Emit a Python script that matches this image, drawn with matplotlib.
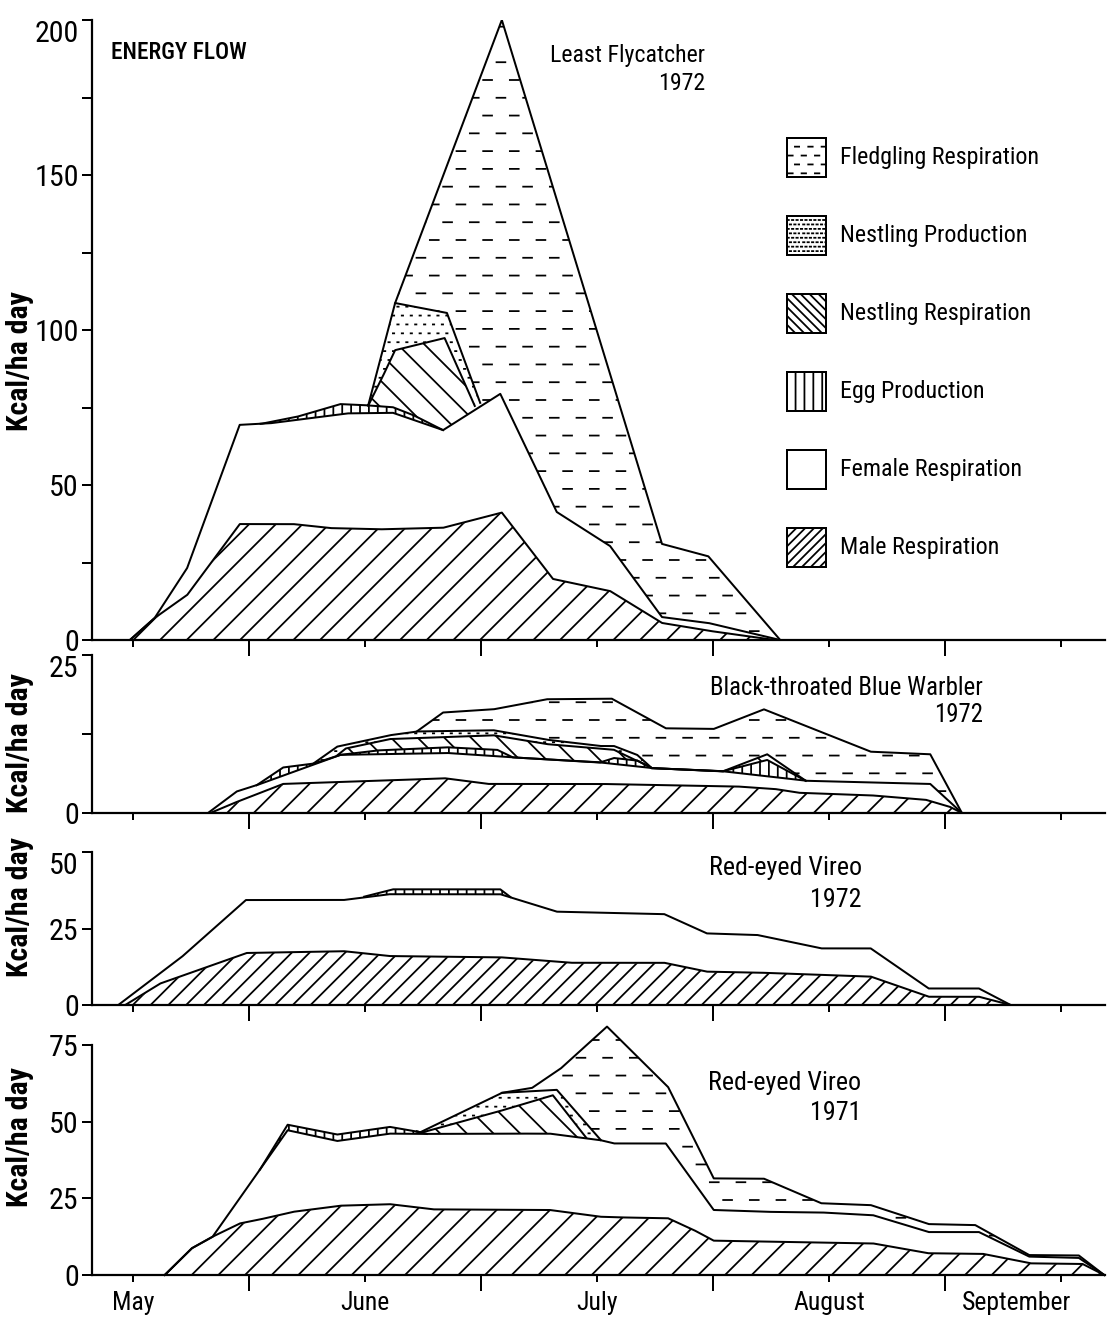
import numpy as np
import matplotlib
matplotlib.use("Agg")
import matplotlib.pyplot as plt
import matplotlib.hatch as mhatch
from matplotlib import font_manager as fm
from matplotlib.path import Path
from matplotlib.patches import Rectangle

# ------------------------------------------------------------------ data
# x = days of the season (tick every 15 days; 15 = mid-May, 30 = 1 June ...)
month_names = ["May", "June", "July", "August", "September"]
month_pos = [15, 45, 75, 105, 135]
boundary_ticks = [30, 60, 90, 120]

layer_names = ["Fledgling Respiration", "Nestling Production", "Nestling Respiration",
               "Egg Production", "Female Respiration", "Male Respiration"]

# Least Flycatcher 1972 (cumulative tops of each layer, kcal/ha day)
lf_male_x = [14.6, 17.8, 22.0, 28.8, 35.7, 40.5, 46.9, 55.1, 58.2, 62.7, 69.3, 76.7, 83.4, 89.4, 98.0]
lf_male_y = [0, 7.1, 14.5, 37.4, 37.4, 36.1, 35.7, 36.2, 38.2, 41.1, 19.7, 15.8, 5.5, 3.0, 0]
lf_female_x = [14.6, 17.8, 22.0, 28.8, 32.7, 42.7, 48.6, 55.1, 62.5, 69.8, 76.7, 83.4, 89.4, 98.7]
lf_female_y = [0, 7.1, 23.2, 69.4, 69.9, 73.1, 73.3, 67.7, 79.4, 41.3, 30.3, 7.4, 5.5, 0]
lf_egg_x = [31.5, 36.2, 41.8, 44.7, 48.6, 51.2, 55.1]
lf_egg_y = [69.7, 72.0, 76.1, 75.8, 75.1, 72.6, 67.7]
lf_nresp_x = [45.4, 47.2, 48.9, 55.3, 59.2]
lf_nresp_y = [75.5, 84.5, 93.5, 97.4, 75.5]
lf_nprod_x = [45.4, 48.9, 55.6, 59.9]
lf_nprod_y = [75.5, 108.7, 105.5, 76.5]
lf_fledg_x = [48.9, 62.7, 83.4, 89.4, 98.7]
lf_fledg_y = [108.7, 200, 31.0, 27.0, 0]

# Black-throated Blue Warbler 1972
bt_male_x = [25.0, 27.9, 34.4, 49.1, 55.3, 60.9, 75.4, 93.1, 98.0, 101.1, 110.4, 117.5, 120.6, 122.2]
bt_male_y = [0, 1.5, 4.6, 5.2, 5.5, 4.6, 4.6, 4.2, 3.8, 3.2, 2.8, 2.1, 1.0, 0]
bt_female_x = [24.7, 28.4, 31.0, 41.8, 55.6, 64.1, 75.4, 82.1, 91.3, 102.0, 118.1, 122.2]
bt_female_y = [0, 3.4, 4.4, 9.2, 9.5, 8.8, 8.0, 7.1, 6.6, 5.1, 4.6, 0]
bt_egg_x = [31.0, 34.4, 38.3, 41.8, 46.6, 55.6, 62.1, 64.1, 75.4, 77.2, 80.2, 82.1, 91.3, 97.0, 102.0]
bt_egg_y = [4.4, 7.2, 7.8, 9.2, 9.9, 10.4, 10.0, 8.8, 8.0, 8.7, 8.3, 7.1, 6.6, 8.4, 5.1]
bt_nresp_x = [41.4, 42.5, 48.2, 61.6, 68.5, 75.4, 77.2, 82.1, 91.3, 97.0, 102.0]
bt_nresp_y = [9.1, 10.2, 11.7, 12.3, 10.9, 10.2, 10.0, 7.1, 6.6, 9.3, 5.1]
bt_nprod_x = [38.3, 41.4, 48.2, 51.7, 61.6, 68.5, 75.4, 77.2, 80.2, 82.1]
bt_nprod_y = [7.8, 10.5, 12.3, 12.9, 13.1, 11.6, 10.6, 10.6, 9.2, 7.1]
bt_fledg_x = [51.7, 55.1, 61.6, 68.5, 76.9, 83.9, 90.1, 96.6, 110.4, 118.1, 122.2]
bt_fledg_y = [12.9, 15.9, 16.4, 18.0, 18.1, 13.4, 13.3, 16.4, 9.7, 9.3, 0]

# Red-eyed Vireo 1972
rv2_male_x = [14.0, 18.5, 29.7, 42.2, 48.1, 62.5, 71.6, 83.7, 89.2, 95.7, 110.4, 117.9, 124.4, 128.5]
rv2_male_y = [0, 7.0, 17.0, 17.6, 16.0, 15.6, 13.8, 13.8, 10.9, 10.6, 9.3, 2.7, 2.7, 0]
rv2_female_x = [13.1, 21.3, 29.6, 42.2, 48.1, 62.5, 69.8, 83.7, 89.2, 95.7, 104.0, 110.4, 117.9, 124.4, 128.5]
rv2_female_y = [0, 15.7, 34.3, 34.3, 36.2, 36.2, 30.5, 29.7, 23.4, 22.9, 18.5, 18.5, 5.4, 5.4, 0]
rv2_egg_x = [44.9, 48.6, 62.5, 63.8]
rv2_egg_y = [35.4, 37.8, 37.8, 35.3]

# Red-eyed Vireo 1971
rv1_male_x = [19.1, 22.6, 25.3, 28.8, 31.4, 35.7, 41.8, 48.2, 53.8, 62.1, 68.9, 75.4, 77.7, 84.2,
              87.5, 90.1, 110.7, 117.8, 124.9, 131.1, 137.8, 140.6]
rv1_male_y = [0, 8.7, 12.5, 16.8, 18.1, 20.6, 22.6, 23.1, 21.4, 21.3, 21.2, 19.0, 18.8, 18.5,
              14.7, 11.2, 10.3, 7.1, 6.9, 3.8, 3.6, 0]
rv1_female_x = [19.1, 22.6, 25.3, 35.0, 41.4, 48.2, 51.7, 62.1, 68.9, 75.4, 77.2, 83.9, 90.1,
                96.9, 104.0, 110.7, 117.9, 124.4, 130.9, 137.3, 140.6]
rv1_female_y = [0, 8.7, 12.5, 47.2, 43.7, 46.1, 46.0, 46.1, 46.1, 44.0, 42.9, 42.9, 21.2,
                20.6, 20.4, 19.5, 14.0, 14.0, 6.0, 5.6, 0]
rv1_egg_x = [31.4, 35.0, 41.4, 48.2, 51.7, 53.0]
rv1_egg_y = [34.3, 49.0, 45.8, 48.3, 46.8, 46.0]
rv1_nresp_x = [51.7, 62.1, 69.3, 73.6]
rv1_nresp_y = [46.0, 53.2, 58.6, 44.8]
rv1_nprod_x = [51.7, 62.7, 69.8, 75.5]
rv1_nprod_y = [46.0, 59.4, 60.4, 44.0]
rv1_fledg_x = [62.7, 66.6, 70.3, 76.3, 84.2, 90.1, 96.6, 104.0, 110.4, 117.9, 123.9, 130.9, 137.3, 140.6]
rv1_fledg_y = [59.4, 61.0, 67.3, 81.0, 61.3, 31.5, 31.4, 23.4, 22.8, 16.6, 16.3, 6.5, 6.4, 0]


# ------------------------------------------------------------------ custom hatches
class DashHatch(mhatch.HatchPatternBase):
    """short staggered horizontal dashes, triggered by '*'"""
    def __init__(self, hatch, density):
        n = hatch.count('*')
        self.rows = int(1.5 * n * density)
        self.cols = int(n * density) if n else 0
        self.num_vertices = self.rows * self.cols * 2

    def set_vertices_and_codes(self, vertices, codes):
        k = 0
        dash = 0.33 / self.cols
        for i in range(self.rows):
            yy = (i + 0.5) / self.rows
            off = 0.12 if i % 2 == 0 else 0.62
            for j in range(self.cols):
                x0 = (j + off) / self.cols
                vertices[k] = (x0, yy)
                vertices[k + 1] = (x0 + dash, yy)
                codes[k] = Path.MOVETO
                codes[k + 1] = Path.LINETO
                k += 2


class DotHatch(mhatch.HatchPatternBase):
    """fine staggered stipple, triggered by 'o'"""
    def __init__(self, hatch, density):
        n = hatch.count('o')
        self.rows = int(3 * n * density)
        self.cols = self.rows
        self.num_vertices = self.rows * self.cols * 2

    def set_vertices_and_codes(self, vertices, codes):
        k = 0
        dot = 0.008
        for i in range(self.rows):
            yy = (i + 0.5) / self.rows
            off = 0.2 if i % 2 == 0 else 0.7
            for j in range(self.cols):
                x0 = (j + off) / self.cols
                vertices[k] = (x0, yy)
                vertices[k + 1] = (x0 + dot, yy)
                codes[k] = Path.MOVETO
                codes[k + 1] = Path.LINETO
                k += 2


try:
    mhatch._hatch_types[mhatch._hatch_types.index(mhatch.Stars)] = DashHatch
    DASH, DASH_LEG = '*', '**'
except Exception:
    DASH, DASH_LEG = '-', '--'
try:
    mhatch._hatch_types[mhatch._hatch_types.index(mhatch.SmallCircles)] = DotHatch
    DOTS, DOTS_LEG = 'o', 'oo'
except Exception:
    DOTS, DOTS_LEG = '..', '....'

H_MALE, H_FEMALE, H_EGG, H_NRESP, H_NPROD = '//', None, '|||', '\\\\', DOTS


# ------------------------------------------------------------------ font choice (narrow if any)
def pick_font():
    entries = fm.fontManager.ttflist
    names = {e.name for e in entries}
    for n in ['Liberation Sans Narrow', 'Roboto Condensed', 'Open Sans Condensed',
              'Noto Sans Condensed', 'DejaVu Sans Condensed', 'Arial Narrow']:
        if n in names:
            return n, 'normal'
    for fam in ['DejaVu Sans', 'Noto Sans', 'Roboto', 'Open Sans']:
        for e in entries:
            if e.name == fam and str(e.stretch) in ('condensed', 'semi-condensed', 'extra-condensed'):
                return fam, 'condensed'
    for fam in ['Roboto', 'Liberation Sans', 'Lato']:
        if fam in names:
            return fam, 'normal'
    return 'DejaVu Sans', 'normal'


FONT, STRETCH = pick_font()
plt.rcParams['font.family'] = [FONT, 'DejaVu Sans']
plt.rcParams['font.stretch'] = STRETCH
plt.rcParams['hatch.linewidth'] = 0.8
LW = 0.9

W_PX, H_PX, DPI = 1114, 1318, 160
PT = DPI / 72.0
fig = plt.figure(figsize=(W_PX / DPI, H_PX / DPI), dpi=DPI)
fig.patch.set_facecolor('white')
renderer = fig.canvas.get_renderer()


def fit_size(s, width_px, max_em_px, weight='normal'):
    t = fig.text(0, 0, s, fontsize=20, fontweight=weight)
    w = t.get_window_extent(renderer).width
    t.remove()
    return min(20 * width_px / w, max_em_px / PT)


fs_tick = fit_size('200', 45, 30)
fs_ylab = fit_size('Kcal/ha day', 140, 32, 'bold')
fs_energy = fit_size('ENERGY FLOW', 136, 28, 'medium')
fs_lf = fit_size('Least Flycatcher', 155, 29)
fs_bt = fit_size('Black-throated Blue Warbler', 274, 29)
fs_rv = fit_size('Red-eyed Vireo', 153, 29)
fs_leg = fit_size('Fledgling Respiration', 200, 29)
fs_month = fit_size('September', 110, 29)

X0, X1 = 92, 1105


def add_ax(top_px, bot_px):
    return fig.add_axes([X0 / W_PX, 1 - bot_px / H_PX, (X1 - X0) / W_PX, (bot_px - top_px) / H_PX])


def stack(ax, layers, clip=True):
    allx = np.concatenate([np.asarray(l[0], float) for l in layers])
    xg = np.union1d(np.linspace(allx.min(), allx.max(), 4000), allx)
    base = np.zeros_like(xg)
    for x, y, hatch in layers:
        x = np.asarray(x, float)
        y = np.asarray(y, float)
        inside = (xg >= x[0]) & (xg <= x[-1])
        top = np.where(inside, np.maximum(np.interp(xg, x, y), base), base)
        ax.fill_between(xg, base, top, where=inside, facecolor='white', edgecolor='black',
                        linewidth=0, hatch=hatch, zorder=2, clip_on=clip)
        ax.plot(xg[inside], top[inside], color='black', lw=LW, zorder=3, clip_on=clip)
        base = top


def style(ax, ymax, yticks, yminor, label_y, top_label_down=True, bottom=False):
    ax.set_xlim(9.7, 140.7)
    ax.set_ylim(0, ymax)
    for s in ('top', 'right'):
        ax.spines[s].set_visible(False)
    for s in ('left', 'bottom'):
        ax.spines[s].set_linewidth(1.0)
    ax.set_facecolor('none')
    ax.set_yticks(yticks)
    ax.set_yticklabels([str(v) for v in yticks])
    ax.set_yticks(yminor, minor=True)
    ax.tick_params(axis='y', which='both', direction='out', length=4.5, width=0.9,
                   labelsize=fs_tick, pad=1.5)
    if top_label_down:
        ax.get_yticklabels()[-1].set_verticalalignment('top')
    ax.set_xticks(boundary_ticks)
    ax.set_xticks(month_pos, minor=True)
    ax.tick_params(axis='x', which='major', direction='out', length=7, width=0.9, labelbottom=False)
    ax.tick_params(axis='x', which='minor', direction='out', length=3, width=0.9, labelbottom=False)
    ax.set_ylabel('Kcal/ha day', fontsize=fs_ylab, fontweight='bold')
    ax.yaxis.label.set(rotation_mode='default', va='center', ha='center')
    ax.yaxis.set_label_coords((20 - X0) / (X1 - X0), label_y)
    if bottom:
        for name, pos in zip(month_names, month_pos):
            if name == 'September':
                ax.text(pos + 1.3, -0.152, name, transform=ax.get_xaxis_transform(),
                        ha='right', va='baseline', fontsize=fs_month)
            else:
                ax.text(pos, -0.152, name, transform=ax.get_xaxis_transform(),
                        ha='center', va='baseline', fontsize=fs_month)


def species(ax, xr, name, y1, year, y2, fs):
    ax.text(xr, y1, name, transform=ax.transAxes, ha='right', va='baseline', fontsize=fs)
    ax.text(xr, y2, year, transform=ax.transAxes, ha='right', va='baseline', fontsize=fs)


# ---------------- panel 1: Least Flycatcher 1972
ax1 = add_ax(20, 640)
stack(ax1, [(lf_male_x, lf_male_y, H_MALE), (lf_female_x, lf_female_y, H_FEMALE),
            (lf_egg_x, lf_egg_y, H_EGG), (lf_nresp_x, lf_nresp_y, H_NRESP),
            (lf_nprod_x, lf_nprod_y, H_NPROD), (lf_fledg_x, lf_fledg_y, DASH)])
style(ax1, 200, [0, 50, 100, 150, 200], [25, 75, 125, 175], (640 - 361) / 620)
ax1.text(0.0185, 0.937, 'ENERGY FLOW', transform=ax1.transAxes, ha='left', va='baseline',
         fontsize=fs_energy, fontweight='medium')
species(ax1, 0.6051, 'Least Flycatcher', 0.9327, '1972', 0.8877, fs_lf)

# key: hatched swatches with labels (positions in axes fraction of panel 1)
legend_hatches = [DASH_LEG, DOTS_LEG, '\\\\\\\\\\\\', '|||', None, '//////']
key_box_tops = [138, 216, 294, 372, 450, 528]
KEY_X, KEY_W, KEY_H, KEY_TX = 787, 39, 39, 840
for name, h, top in zip(layer_names, legend_hatches, key_box_tops):
    ax1.add_patch(Rectangle(((KEY_X - X0) / (X1 - X0), (640 - top - KEY_H) / 620),
                            KEY_W / (X1 - X0), KEY_H / 620, transform=ax1.transAxes,
                            facecolor='white', edgecolor='black', hatch=h, linewidth=LW,
                            clip_on=False, zorder=4))
    ax1.text((KEY_TX - X0) / (X1 - X0), (640 - top - KEY_H / 2) / 620, name,
             transform=ax1.transAxes, ha='left', va='center', fontsize=fs_leg)

# ---------------- panel 2: Black-throated Blue Warbler 1972
ax2 = add_ax(655, 813)
stack(ax2, [(bt_male_x, bt_male_y, H_MALE), (bt_female_x, bt_female_y, H_FEMALE),
            (bt_egg_x, bt_egg_y, H_EGG), (bt_nresp_x, bt_nresp_y, H_NRESP),
            (bt_nprod_x, bt_nprod_y, H_NPROD), (bt_fledg_x, bt_fledg_y, DASH)])
style(ax2, 25, [0, 25], [12.5], (813 - 743) / 158)
species(ax2, 0.8796, 'Black-throated Blue Warbler', 0.7468, '1972', 0.5778, fs_bt)

# ---------------- panel 3: Red-eyed Vireo 1972
ax3 = add_ax(852, 1005)
stack(ax3, [(rv2_male_x, rv2_male_y, '///'), (rv2_female_x, rv2_female_y, H_FEMALE),
            (rv2_egg_x, rv2_egg_y, H_EGG)])
style(ax3, 50, [0, 25, 50], [], (1005 - 907) / 153)
species(ax3, 0.7601, 'Red-eyed Vireo', 0.8497, '1972', 0.6405, fs_rv)

# ---------------- panel 4: Red-eyed Vireo 1971
ax4 = add_ax(1045, 1275)
stack(ax4, [(rv1_male_x, rv1_male_y, H_MALE), (rv1_female_x, rv1_female_y, H_FEMALE),
            (rv1_egg_x, rv1_egg_y, H_EGG), (rv1_nresp_x, rv1_nresp_y, H_NRESP),
            (rv1_nprod_x, rv1_nprod_y, H_NPROD), (rv1_fledg_x, rv1_fledg_y, DASH)], clip=False)
style(ax4, 75, [0, 25, 50, 75], [], (1275 - 1137) / 230, top_label_down=False, bottom=True)
species(ax4, 0.7591, 'Red-eyed Vireo', 0.8043, '1971', 0.6739, fs_rv)

fig.savefig('out.png', dpi=DPI, facecolor='white')
